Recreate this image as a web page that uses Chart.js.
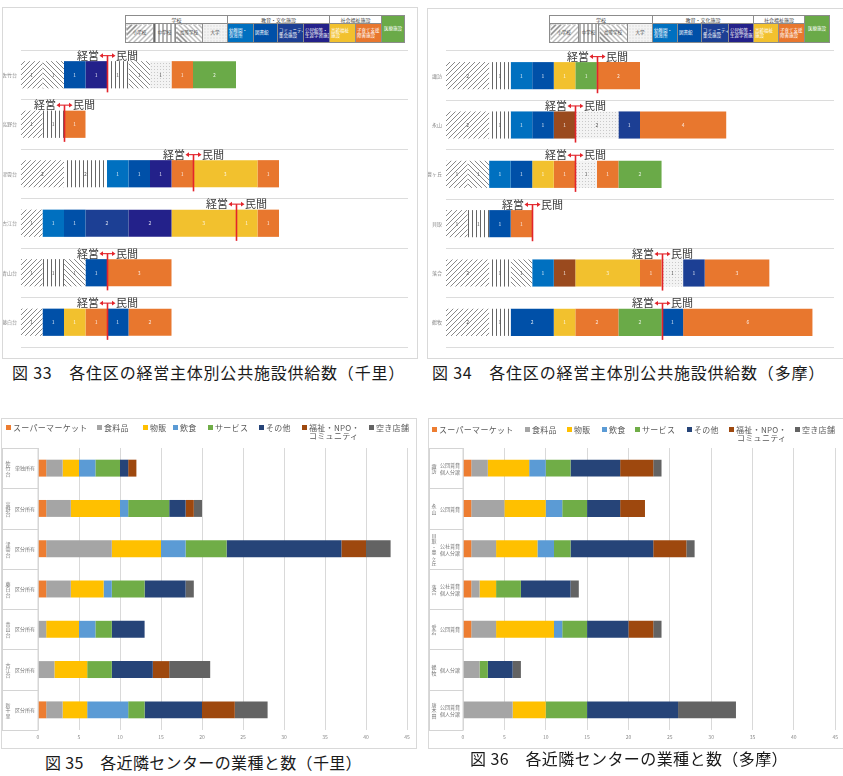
<!DOCTYPE html>
<html><head><meta charset="utf-8">
<script src="https://cdn.jsdelivr.net/npm/chart.js@4.4.1/dist/chart.umd.min.js"></script>
<style>
body{margin:0;background:#fff;width:843px;height:776px;position:relative;overflow:hidden;font-family:"Noto Sans CJK JP","Noto Sans",sans-serif;}
.frame{position:absolute;border:1px solid #d9d9d9;box-sizing:border-box;}
canvas{position:absolute;}
.cap{position:absolute;font-size:16px;color:#1a1a1a;white-space:pre;line-height:1;}
table.lg{position:absolute;border-collapse:collapse;table-layout:fixed;font-size:4.5px;color:#444;background:#fff;}
table.lg td{border:0.8px solid #8c8c8c;padding:0 1px;text-align:center;line-height:1.15;overflow:hidden;white-space:pre;}
table.lg td.c{color:#fff;text-align:left;}
.sl{position:absolute;font-size:8px;color:#595959;white-space:pre;line-height:1;letter-spacing:0.3px;}
.sl i{display:inline-block;width:5px;height:5px;margin-right:2px;vertical-align:1px;}
</style></head>
<body>
<div class="frame" style="left:2px;top:7px;width:416px;height:352px"></div>
<div class="frame" style="left:427px;top:8px;width:418px;height:351px"></div>
<div class="frame" style="left:1px;top:418px;width:416px;height:331px"></div>
<div class="frame" style="left:428px;top:418px;width:417px;height:331px"></div>
<canvas id="c1" width="414" height="350" style="left:3px;top:8px"></canvas>
<canvas id="c2" width="414" height="349" style="left:428px;top:9px"></canvas>
<canvas id="c3" width="414" height="329" style="left:2px;top:419px"></canvas>
<canvas id="c4" width="413" height="329" style="left:429px;top:419px"></canvas>
<div id="lg1"></div><div id="lg2"></div>
<div id="sl3"></div><div id="sl4"></div>
<div class="cap" id="cap1" style="left:12px;top:364px">図 33　各住区の経営主体別公共施設供給数（千里）</div>
<div class="cap" id="cap2" style="left:432px;top:364px">図 34　各住区の経営主体別公共施設供給数（多摩）</div>
<div class="cap" id="cap3" style="left:45px;top:754px">図 35　各近隣センターの業種と数（千里）</div>
<div class="cap" id="cap4" style="left:470px;top:750px">図 36　各近隣センターの業種と数（多摩）</div>
<script>
// ---------- data: public facilities by management (図33/34) ----------
const FAC_TYPES = ['小学校','中学校','高等学校','大学','幼稚園・保育所','図書館','コミュニティ集会施設','公民館等・生涯学習施設','その他','高齢福祉施設','子育て支援・障害施設','医療施設'];
const senriAreas = ['佐竹台','高野台','津雲台','古江台','青山台','藤白台'];
const tamaAreas  = ['諏訪','永山','豊ヶ丘','貝取','落合','鶴牧'];
// columns follow FAC_TYPES
const senriPublic = [
  [1,0,1,0, 0,1,0,1, 0,0,0,0],
  [1,1,0,0, 0,0,0,0, 0,0,0,0],
  [2,2,0,0, 1,1,0,1, 0,0,1,0],
  [1,0,0,0, 1,1,2,2, 0,3,0,0],
  [1,1,1,0, 0,1,0,0, 0,0,0,0],
  [1,0,0,0, 0,1,0,0, 0,1,1,0]
];
const senriPrivate = [
  [0,1,1,1, 0,0,0,0, 0,0,1,2],
  [0,0,0,0, 0,0,0,0, 0,0,1,0],
  [0,0,0,0, 0,0,0,0, 0,3,1,0],
  [0,0,0,0, 0,0,0,0, 0,1,1,0],
  [0,0,0,0, 0,0,0,0, 0,0,3,0],
  [0,0,0,0, 0,1,0,0, 0,0,2,0]
];
const tamaPublic = [
  [2,1,0,0, 1,1,0,0, 0,1,0,1],
  [2,1,0,0, 1,1,0,0, 1,0,0,0],
  [1,0,1,0, 1,1,0,0, 0,1,1,0],
  [1,1,0,0, 0,1,0,0, 0,0,1,0],
  [2,1,1,0, 1,0,0,0, 1,3,1,0],
  [2,1,0,0, 0,2,0,0, 0,1,2,2]
];
const tamaPrivate = [
  [0,0,0,0, 0,0,0,0, 0,0,2,0],
  [0,0,0,2, 0,0,1,0, 0,0,4,0],
  [0,0,0,1, 0,0,0,0, 0,0,1,2],
  [0,0,0,0, 0,0,0,0, 0,0,0,0],
  [0,0,0,1, 0,0,1,0, 0,0,3,0],
  [0,0,0,0, 0,1,0,0, 0,0,6,0]
];
const facTicks = [0,2,4,6,8,10,12,14,16,18];

// ---------- data: shops in neighbourhood centres (図35/36) ----------
const SHOP_TYPES = ['スーパーマーケット','食料品','物販','飲食','サービス','その他','福祉・NPO・コミュニティ','空き店舗'];
const senriGroups = ['佐竹台','高野台','津雲台','藤白台','青山台','古江台','新千里'];
const senriSubs   = ['単独所有','区分所有','区分所有','区分所有','区分所有','区分所有','区分所有'];
const senriSuper   = [1,1,1,1,0,0,1];
const senriFood    = [2,3,8,3,1,2,2];
const senriGoods   = [2,6,6,4,4,4,3];
const senriEat     = [2,1,3,1,2,0,5];
const senriService = [3,5,5,4,2,3,2];
const senriOther   = [1,2,14,5,4,5,7];
const senriWelfare = [1,1,3,0,0,2,4];
const senriVacant  = [0,1,3,1,0,5,4];
const tamaGroups = ['諏訪','永山','貝取・豊ヶ丘','落合','愛宕','鶴牧','唐木田'];
const tamaSubs   = ['公団賃貸\n個人分譲','公団賃貸','公社賃貸\n個人分譲','公社賃貸\n個人分譲','公団賃貸','個人分譲','公団賃貸\n個人分譲'];
const tamaSuper   = [1,1,1,1,1,0,0];
const tamaFood    = [2,4,3,1,3,2,6];
const tamaGoods   = [5,5,5,2,7,0,4];
const tamaEat     = [2,2,2,0,1,0,0];
const tamaService = [3,3,2,3,3,1,5];
const tamaOther   = [6,4,10,6,5,3,11];
const tamaWelfare = [4,3,4,0,3,0,0];
const tamaVacant  = [1,0,1,1,1,1,7];
const shopTicks = [0,5,10,15,20,25,30,35,40,45];

// ---------- styles ----------
const FAC_COLORS = [null,null,null,null,'#0070C0','#0050A8','#1C3F94','#23218A','#9A4A1E','#F2C12E','#E8772E','#6AAA48'];
const SHOP_COLORS = ['#ED7D31','#A5A5A5','#FFC000','#5B9BD5','#70AD47','#264478','#9E480E','#636363'];
const JP = '"Noto Sans CJK JP","Noto Sans",sans-serif';

function makePattern(kind){
  const c=document.createElement('canvas');
  const s = kind==='vert'?4:(kind==='dots'?3:5);
  c.width=s;c.height=kind==='vert'?1:s;
  const g=c.getContext('2d');
  g.fillStyle = kind==='dots'?'#f3f3f3':'#fff'; g.fillRect(0,0,c.width,c.height);
  g.strokeStyle='#7a7a7a'; g.lineWidth=0.9;
  if(kind==='diag'){g.beginPath();g.moveTo(0,s);g.lineTo(s,0);g.moveTo(-1,1);g.lineTo(1,-1);g.moveTo(s-1,s+1);g.lineTo(s+1,s-1);g.stroke();}
  if(kind==='back'){g.beginPath();g.moveTo(0,0);g.lineTo(s,s);g.moveTo(-1,s-1);g.lineTo(1,s+1);g.moveTo(s-1,-1);g.lineTo(s+1,1);g.stroke();}
  if(kind==='vert'){g.fillStyle='#666';g.fillRect(0,0,1,1);}
  if(kind==='dots'){g.fillStyle='#c9c9c9';g.fillRect(1,1,1,1);}
  return g.createPattern(c,'repeat');
}
const PATTERNS = [makePattern('diag'),makePattern('vert'),makePattern('back'),makePattern('dots')];
function facFill(k){ return k<4 ? PATTERNS[k] : FAC_COLORS[k]; }

// ---------- plugins ----------
const valueLabels = {id:'vals', afterDatasetsDraw(chart){
  const ctx=chart.ctx; ctx.save(); ctx.font='5px '+JP; ctx.textAlign='center'; ctx.textBaseline='middle';
  chart.data.datasets.forEach((ds,di)=>{
    const meta=chart.getDatasetMeta(di);
    meta.data.forEach((el,i)=>{
      const v=ds.data[i]; if(!v) return;
      const p=el.getProps(['x','y','base'],true);
      ctx.fillStyle = ds.patterned ? '#555' : 'rgba(255,255,255,0.85)';
      ctx.fillText(String(v),(p.x+p.base)/2,p.y);
    });
  });
  ctx.restore();
}};
function splitPlugin(pub){
  const bounds = pub.map(r=>r.reduce((a,b)=>a+b,0));
  return {id:'split', afterDatasetsDraw(chart){
    const ctx=chart.ctx, xs=chart.scales.x, meta=chart.getDatasetMeta(0);
    ctx.save();
    bounds.forEach((b,i)=>{
      const el=meta.data[i]; const p=el.getProps(['y','height'],true);
      const px=Math.round(xs.getPixelForValue(b))+0.5;
      const top=p.y-p.height/2, bot=p.y+p.height/2, ty=top-5.5;
      ctx.strokeStyle='#E3242B'; ctx.fillStyle='#E3242B';
      ctx.lineWidth=1.6; ctx.beginPath(); ctx.moveTo(px,ty); ctx.lineTo(px,bot+4); ctx.stroke();
      ctx.lineWidth=1.1; ctx.beginPath(); ctx.moveTo(px-6,ty); ctx.lineTo(px+6,ty); ctx.stroke();
      ctx.beginPath(); ctx.moveTo(px-8,ty); ctx.lineTo(px-4.5,ty-2.3); ctx.lineTo(px-4.5,ty+2.3); ctx.closePath(); ctx.fill();
      ctx.beginPath(); ctx.moveTo(px+8,ty); ctx.lineTo(px+4.5,ty-2.3); ctx.lineTo(px+4.5,ty+2.3); ctx.closePath(); ctx.fill();
      ctx.fillStyle='#3a3a3a'; ctx.font='11px '+JP; ctx.textBaseline='middle';
      ctx.textAlign='right'; ctx.fillText('経営',px-8.5,ty);
      ctx.textAlign='left'; ctx.fillText('民間',px+8.5,ty);
    });
    ctx.restore();
  }};
}
function boxPlugin(groups, subs, gx, sx){
  return {id:'boxes', afterDraw(chart){
    const ctx=chart.ctx, ca=chart.chartArea, n=groups.length, step=(ca.bottom-ca.top)/n;
    ctx.save(); ctx.strokeStyle='#d4d4d4'; ctx.lineWidth=1;
    for(let i=0;i<n;i++){
      const t=Math.round(ca.top+i*step)+0.5, b=Math.round(ca.top+(i+1)*step)+0.5;
      ctx.strokeRect(0.5,t,Math.round(ca.left)-0.5,b-t);
      const cy=(t+b)/2;
      ctx.fillStyle='#777'; ctx.font='5px '+JP; ctx.textAlign='center'; ctx.textBaseline='middle';
      const chars=[...groups[i]]; const h=5.4;
      chars.forEach((ch,j)=>ctx.fillText(ch,gx,cy-(chars.length-1)*h/2+j*h));
      const lines=subs[i].split('\n');
      lines.forEach((ln,j)=>ctx.fillText(ln,sx,cy-(lines.length-1)*3.2+j*6.4));
    }
    ctx.restore();
  }};
}

// ---------- charts ----------
function facChart(id, areas, pub, priv, padRight){
  const datasets=[];
  [pub,priv].forEach((m,side)=>{
    FAC_TYPES.forEach((t,k)=>{
      datasets.push({label:t+(side?'（民間）':'（経営）'), data:m.map(r=>r[k]), backgroundColor:facFill(k),
        patterned:k<4, borderWidth:0, barPercentage:0.55, categoryPercentage:1});
    });
  });
  new Chart(document.getElementById(id),{type:'bar',
    data:{labels:areas, datasets},
    options:{indexAxis:'y', responsive:false, animation:false,
      layout:{padding:{top:42,right:padRight,bottom:1,left:0}},
      plugins:{legend:{display:false},tooltip:{enabled:false}},
      scales:{
        x:{stacked:true,min:0,max:18,afterBuildTicks:s=>{s.ticks=facTicks.map(v=>({value:v}));},
           afterFit:s=>{s.height=10;}, grid:{display:false}, border:{display:false},
           ticks:{font:{size:5,family:JP},color:'#8a8a8a',padding:2,autoSkip:false,maxRotation:0}},
        y:{stacked:true, afterFit:s=>{s.width=18;}, grid:{color:'#dcdcdc',lineWidth:1,drawTicks:false}, border:{display:false},
           ticks:{font:{size:5,family:JP},color:'#8a8a8a',padding:4}}
      }},
    plugins:[valueLabels, splitPlugin(pub)]
  });
}
facChart('c1', senriAreas, senriPublic, senriPrivate, 9);
facChart('c2', tamaAreas, tamaPublic, tamaPrivate, 8);

function shopChart(id, groups, subs, series, padRight, leftW, gx, sx){
  const datasets = SHOP_TYPES.map((t,k)=>({label:t, data:series[k], backgroundColor:SHOP_COLORS[k], borderWidth:0, barPercentage:0.42, categoryPercentage:1}));
  new Chart(document.getElementById(id),{type:'bar',
    data:{labels:groups, datasets},
    options:{indexAxis:'y', responsive:false, animation:false,
      layout:{padding:{top:29,right:padRight,bottom:6,left:0}},
      plugins:{legend:{display:false},tooltip:{enabled:false}},
      scales:{
        x:{stacked:true,min:0,max:45,afterBuildTicks:s=>{s.ticks=shopTicks.map(v=>({value:v}));},
           afterFit:s=>{s.height=12;}, grid:{color:'#d9d9d9',drawTicks:false}, border:{display:false},
           ticks:{font:{size:5,family:JP},color:'#8a8a8a',padding:4,autoSkip:false,maxRotation:0}},
        y:{stacked:true, afterFit:s=>{s.width=leftW;}, grid:{display:false}, border:{display:false}, ticks:{display:false}}
      }},
    plugins:[boxPlugin(groups, subs, gx, sx)]
  });
}
shopChart('c3', senriGroups, senriSubs, [senriSuper,senriFood,senriGoods,senriEat,senriService,senriOther,senriWelfare,senriVacant], 9, 36, 6, 23);
shopChart('c4', tamaGroups, tamaSubs, [tamaSuper,tamaFood,tamaGoods,tamaEat,tamaService,tamaOther,tamaWelfare,tamaVacant], 4, 34, 5, 21);

// ---------- legend tables (図33/34) ----------
const HEAD_GROUPS = [['学校',4],['教育・文化施設',4],['社会福祉施設',2]];
const CELL_TEXT = ['小学校','中学校','高等学校','大学','幼稚園・\n保育所','図書館','コミュニティ\n集会施設','公民館等・\n生涯学習施設','高齢福祉\n施設','子育て支援\n障害施設','医療施設'];
const CELL_TYPE = [0,1,2,3,4,5,6,7,9,10,11];
const CSS_PAT = [
  'repeating-linear-gradient(135deg,#7a7a7a 0 0.8px,#fff 0.8px 3.5px)',
  'repeating-linear-gradient(90deg,#666 0 1px,#fff 1px 4px)',
  'repeating-linear-gradient(45deg,#7a7a7a 0 0.8px,#fff 0.8px 3.5px)',
  'radial-gradient(#c9c9c9 0.6px,#f3f3f3 0.8px) 0 0/3px 3px'
];
function buildTable(elId,left,top,widths){
  const t=document.createElement('table'); t.className='lg';
  t.style.left=left+'px'; t.style.top=top+'px';
  t.style.width=widths.reduce((a,b)=>a+b,0)+'px';
  const cg=document.createElement('colgroup');
  widths.forEach(w=>{const c=document.createElement('col');c.style.width=w+'px';cg.appendChild(c);});
  t.appendChild(cg);
  const r1=t.insertRow(); r1.style.height='8px';
  HEAD_GROUPS.forEach(([txt,span])=>{const td=r1.insertCell(); td.colSpan=span; td.textContent=txt; td.style.fontSize='5px';});
  const last=r1.insertCell(); last.rowSpan=2; last.textContent=CELL_TEXT[10]; last.className='c'; last.style.background=FAC_COLORS[11]; last.style.textAlign='center';
  const r2=t.insertRow(); r2.style.height='19px';
  for(let i=0;i<10;i++){
    const td=r2.insertCell(); td.textContent=CELL_TEXT[i]; const k=CELL_TYPE[i];
    if(k<4){td.style.background=CSS_PAT[k];} else {td.style.background=FAC_COLORS[k]; td.className='c';}
  }
  document.getElementById(elId).appendChild(t);
}
buildTable('lg1',125,15,[28,22,27,25,26,24,26,26,26,26,23]);
buildTable('lg2',549,15,[29,20,29,25,25,24,27,25,25,26,25]);

// ---------- series legends (図35/36) ----------
function buildShopLegend(elId, xs, y, x2){
  const host=document.getElementById(elId);
  SHOP_TYPES.forEach((t,k)=>{
    const d=document.createElement('div'); d.className='sl';
    d.style.left=xs[k]+'px'; d.style.top=(y-4)+'px';
    const txt = k===6 ? '福祉・NPO・' : t;
    d.innerHTML='<i style="background:'+SHOP_COLORS[k]+'"></i>'+txt;
    host.appendChild(d);
  });
  const d2=document.createElement('div'); d2.className='sl'; d2.style.left=x2+'px'; d2.style.top=(y+4)+'px'; d2.textContent='コミュニティ';
  host.appendChild(d2);
}
buildShopLegend('sl3',[6,97,143,173,208,259,302,369],428,309);
buildShopLegend('sl4',[432,525,567,602,635,687,729,795],430,737);

// ---------- captions fit ----------
function fit(id,w){const el=document.getElementById(id);const n=el.textContent.length;const cw=el.getBoundingClientRect().width;el.style.letterSpacing=((w-cw)/n)+'px';}
fit('cap1',393);fit('cap2',393);fit('cap3',317);fit('cap4',318);
</script>
</body></html>
